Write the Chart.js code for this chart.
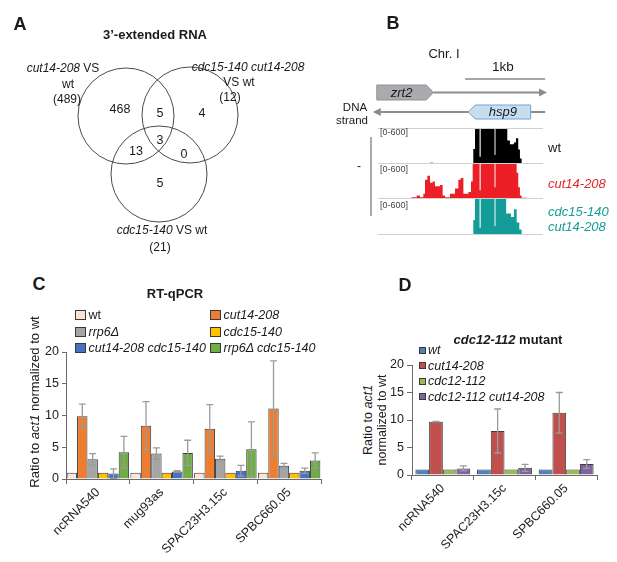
<!DOCTYPE html>
<html>
<head>
<meta charset="utf-8">
<script src="https://cdn.jsdelivr.net/npm/chart.js@4.4.0/dist/chart.umd.min.js"></script>
<style>
  body { margin: 0; background: #fff; }
  #fig { position: relative; width: 617px; height: 562px; overflow: hidden; font-family: "Liberation Sans", Arial, sans-serif; color: #1a1a1a; }
  #fig canvas { position: absolute; }
  .t { position: absolute; white-space: nowrap; line-height: 1; }
  .box { position: absolute; border: 1px solid #3a3a3a; box-sizing: border-box; }
</style>
</head>
<body>
<div id="fig">
  <canvas id="venn" width="320" height="260" style="left:0;top:0"></canvas>
  <canvas id="genes" width="200" height="90" style="left:360px;top:40px"></canvas>
  <canvas id="trackWt" width="165" height="36" style="left:378px;top:128px"></canvas>
  <canvas id="trackCut14" width="165" height="35" style="left:378px;top:164px"></canvas>
  <canvas id="trackDouble" width="165" height="36" style="left:378px;top:199px"></canvas>
  <canvas id="chartC" width="330" height="222" style="left:0;top:340px"></canvas>
  <canvas id="chartD" width="237" height="222" style="left:380px;top:340px"></canvas>
</div>
<script>
// ---- data ----

// A: venn
const vennCounts = [468, 5, 4, 3, 13, 0, 5];   // A only, AB, B only, ABC, AC, BC, C only
const vennTotals = [489, 12, 21];

// B: genome tracks (bp along the window, reads 0-600)
const winStart = 0, winEnd = 2060;
const geneNames = ['zrt2', 'hsp9'];
const geneStart = [-15, 1127];
const geneEnd = [691, 1906];
const geneStrand = ['+', '-'];
const scaleBarStart = 1087, scaleBarLen = 1000;

const wtPos = [0, 610, 650, 690, 740, 800, 1190, 1211, 1268, 1282, 1455, 1467, 1614, 1647, 1697, 1722, 1751, 1772, 1793, 1940, 1990, 2060];
const wtCov = [0, 10, 20, 5, 8, 0, 250, 900, 120, 900, 150, 900, 390, 330, 360, 430, 240, 90, 0, 6, 0, 0];

const cut14Pos = [0, 420, 483, 524, 566, 587, 616, 649, 682, 711, 774, 807, 836, 899, 961, 1003, 1032, 1066, 1128, 1161, 1182, 1268, 1282, 1455, 1467, 1731, 1751, 1772, 1793, 1856, 1906, 2060];
const cut14Cov = [0, 30, 60, 30, 90, 330, 400, 280, 300, 220, 240, 60, 30, 90, 180, 330, 360, 90, 120, 300, 900, 150, 900, 200, 900, 450, 200, 60, 20, 8, 0, 0];

const doublePos = [0, 500, 540, 620, 660, 700, 760, 1190, 1211, 1268, 1282, 1455, 1467, 1600, 1660, 1697, 1731, 1764, 1793, 2060];
const doubleCov = [0, 5, 0, 8, 0, 6, 0, 250, 900, 120, 900, 150, 900, 360, 300, 430, 210, 90, 0, 0];

// C: RT-qPCR
const genesC = ['ncRNA540', 'mug93as', 'SPAC23H3.15c', 'SPBC660.05'];
const wtC = [1, 1, 1, 1];
const cut14C = [9.9, 8.4, 7.9, 11.1];
const cut14ErrC = [1.9, 3.8, 3.8, 7.5];
const rrp6C = [3.1, 4.0, 3.2, 2.1];
const rrp6ErrC = [0.9, 0.9, 0.4, 0.35];
const cdc15C = [1, 1, 1, 1];
const cut14cdc15C = [0.85, 1.2, 1.3, 1.3];
const cut14cdc15ErrC = [0.75, 0.1, 0.85, 0.4];
const rrp6cdc15C = [4.2, 4.1, 4.7, 2.9];
const rrp6cdc15ErrC = [2.5, 2.0, 4.3, 1.2];

// D: cdc12-112 mutant
const genesD = ['ncRNA540', 'SPAC23H3.15c', 'SPBC660.05'];
const wtD = [1, 1, 1];
const cut14D = [9.7, 8.0, 11.3];
const cut14ErrD = [0.05, 4.0, 3.7];
const cdc12D = [1, 1, 1];
const cdc12cut14D = [1.2, 1.3, 2.0];
const cdc12cut14ErrD = [0.45, 0.65, 0.8];

const yTicks = [0, 5, 10, 15, 20];

// ---- helpers ----
const FONT = '"Liberation Sans", Arial, sans-serif';
const fig = document.getElementById('fig');

function addText(html, x, y, o = {}) {
  const d = document.createElement('div');
  d.className = 't';
  d.innerHTML = html;
  d.style.left = x + 'px';
  d.style.top = y + 'px';
  d.style.fontSize = (o.size || 12) + 'px';
  if (o.bold) d.style.fontWeight = 'bold';
  if (o.color) d.style.color = o.color;
  const ax = o.align == 'left' ? '0' : o.align == 'right' ? '-100%' : '-50%';
  d.style.transform = 'translate(' + ax + ',-50%)' + (o.rotate ? ' rotate(' + o.rotate + 'deg)' : '');
  fig.appendChild(d);
  return d;
}

function addBox(x, y, w, h, color) {
  const b = document.createElement('div');
  b.className = 'box';
  b.style.left = x + 'px'; b.style.top = y + 'px';
  b.style.width = w + 'px'; b.style.height = h + 'px';
  b.style.background = color;
  fig.appendChild(b);
}

function toPoints(pos, cov) {
  return pos.map((p, i) => ({ x: p, y: cov[i] }));
}

// error bars drawn from dataset.errors through the y scale
const errorBars = {
  id: 'errorBars',
  afterDatasetsDraw(chart) {
    const ctx = chart.ctx;
    const y = chart.scales.y;
    chart.data.datasets.forEach((ds, i) => {
      if (!ds.errors) return;
      const meta = chart.getDatasetMeta(i);
      ctx.save();
      ctx.strokeStyle = '#9b9b9b';
      ctx.lineWidth = 1.3;
      meta.data.forEach((bar, j) => {
        const e = ds.errors[j];
        if (!e) return;
        const v = ds.data[j];
        const top = y.getPixelForValue(v + e);
        const bot = y.getPixelForValue(Math.max(v - e, 0));
        ctx.beginPath();
        ctx.moveTo(bar.x, top); ctx.lineTo(bar.x, bot);
        ctx.moveTo(bar.x - 3.5, top); ctx.lineTo(bar.x + 3.5, top);
        ctx.moveTo(bar.x - 3.5, bot); ctx.lineTo(bar.x + 3.5, bot);
        ctx.stroke();
      });
      ctx.restore();
    });
  }
};

// ---- panel A: venn ----
const vennCircles = [{ x: 126, y: 116 }, { x: 190, y: 115 }, { x: 159, y: 174 }];
const vennLabelPos = [[120, 110], [160, 114], [202, 114], [160, 141], [136, 152], [184, 155], [160, 184]];

new Chart(document.getElementById('venn'), {
  type: 'scatter',
  data: { datasets: [{ data: vennCircles, pointRadius: 48, pointHoverRadius: 48, pointBackgroundColor: 'rgba(0,0,0,0)', pointBorderColor: '#4a4a4a', pointBorderWidth: 1, clip: false }] },
  options: {
    responsive: false, animation: false, events: [],
    layout: { padding: 0, autoPadding: false },
    plugins: { legend: { display: false }, tooltip: { enabled: false } },
    scales: {
      x: { type: 'linear', min: 0, max: 320, display: false },
      y: { type: 'linear', min: 0, max: 260, reverse: true, display: false }
    }
  },
  plugins: [{
    id: 'vennCounts',
    afterDatasetsDraw(chart) {
      const ctx = chart.ctx;
      ctx.save();
      ctx.font = '12.5px ' + FONT;
      ctx.fillStyle = '#1a1a1a';
      ctx.textAlign = 'center';
      ctx.textBaseline = 'middle';
      vennCounts.forEach((c, i) => {
        ctx.fillText(String(c), chart.scales.x.getPixelForValue(vennLabelPos[i][0]), chart.scales.y.getPixelForValue(vennLabelPos[i][1]));
      });
      ctx.restore();
    }
  }]
});

// ---- panel B: gene model ----
new Chart(document.getElementById('genes'), {
  type: 'scatter',
  data: { datasets: [{ data: [] }] },
  options: {
    responsive: false, animation: false, events: [],
    layout: { padding: { left: 18, right: 17, top: 0, bottom: 0 }, autoPadding: false },
    plugins: { legend: { display: false }, tooltip: { enabled: false } },
    scales: {
      x: { type: 'linear', min: winStart, max: winEnd, display: false },
      y: { min: 0, max: 1, display: false }
    }
  },
  plugins: [{
    id: 'geneModel',
    afterDraw(chart) {
      const ctx = chart.ctx;
      const x = v => chart.scales.x.getPixelForValue(v);
      const rowY = { scale: 39, '+': 52.5, '-': 72 };
      ctx.save();
      // scale bar
      ctx.strokeStyle = '#8a8a8a';
      ctx.lineWidth = 1.3;
      ctx.beginPath();
      ctx.moveTo(x(scaleBarStart), rowY.scale);
      ctx.lineTo(x(scaleBarStart + scaleBarLen), rowY.scale);
      ctx.stroke();
      // strand lines
      ctx.lineWidth = 2;
      ctx.strokeStyle = '#8c8c8c';
      ctx.fillStyle = '#8c8c8c';
      const plusY = rowY['+'], minusY = rowY['-'];
      ctx.beginPath(); ctx.moveTo(x(geneEnd[0]), plusY); ctx.lineTo(x(2060) - 2, plusY); ctx.stroke();
      ctx.beginPath(); ctx.moveTo(x(2060) + 4, plusY); ctx.lineTo(x(2060) - 4, plusY - 4); ctx.lineTo(x(2060) - 4, plusY + 4); ctx.closePath(); ctx.fill();
      ctx.beginPath(); ctx.moveTo(x(2087), minusY); ctx.lineTo(x(-20), minusY); ctx.stroke();
      ctx.beginPath(); ctx.moveTo(x(-40) - 2, minusY); ctx.lineTo(x(-40) + 6, minusY - 4); ctx.lineTo(x(-40) + 6, minusY + 4); ctx.closePath(); ctx.fill();
      // genes
      geneNames.forEach((name, i) => {
        const a = x(geneStart[i]), b = x(geneEnd[i]);
        const yc = rowY[geneStrand[i]];
        const h = geneStrand[i] == '+' ? 7.5 : 7;
        ctx.beginPath();
        if (geneStrand[i] == '+') {
          ctx.moveTo(a, yc - h); ctx.lineTo(b - 7, yc - h); ctx.lineTo(b, yc); ctx.lineTo(b - 7, yc + h); ctx.lineTo(a, yc + h);
          ctx.fillStyle = '#a9abae'; ctx.strokeStyle = '#8f9194';
        } else {
          ctx.moveTo(b, yc - h); ctx.lineTo(a + 7, yc - h); ctx.lineTo(a, yc); ctx.lineTo(a + 7, yc + h); ctx.lineTo(b, yc + h);
          ctx.fillStyle = '#c6ddf2'; ctx.strokeStyle = '#74a3d4';
        }
        ctx.closePath();
        ctx.lineWidth = 1;
        ctx.fill(); ctx.stroke();
        ctx.fillStyle = '#1a1a1a';
        ctx.font = 'italic 13px ' + FONT;
        ctx.textAlign = 'center';
        ctx.textBaseline = 'middle';
        const mid = geneStrand[i] == '+' ? (a + b - 7) / 2 : (a + 7 + b) / 2;
        ctx.fillText(name, mid, yc + 0.5);
      });
      ctx.restore();
    }
  }]
});

// ---- panel B: coverage tracks ----
const trackFrame = {
  id: 'trackFrame',
  afterDraw(chart, args, opts) {
    const ctx = chart.ctx, a = chart.chartArea;
    ctx.save();
    ctx.strokeStyle = '#d0d0d0';
    ctx.lineWidth = 1;
    ctx.beginPath();
    ctx.moveTo(a.left, a.bottom - 0.5); ctx.lineTo(a.right, a.bottom - 0.5);
    if (opts.top) { ctx.moveTo(a.left, a.top + 0.5); ctx.lineTo(a.right, a.top + 0.5); }
    ctx.stroke();
    ctx.restore();
  }
};

function trackChart(id, pos, cov, color, top) {
  new Chart(document.getElementById(id), {
    type: 'line',
    data: { datasets: [{ data: toPoints(pos, cov), stepped: 'before', fill: 'origin', backgroundColor: color, borderColor: color, borderWidth: 0, pointRadius: 0 }] },
    options: {
      responsive: false, animation: false, events: [],
      layout: { padding: 0, autoPadding: false },
      plugins: { legend: { display: false }, tooltip: { enabled: false }, trackFrame: { top: top } },
      scales: {
        x: { type: 'linear', min: winStart, max: winEnd, display: false },
        y: { min: 0, max: 600, display: false }
      }
    },
    plugins: [trackFrame]
  });
}
trackChart('trackWt', wtPos, wtCov, '#000000', true);
trackChart('trackCut14', cut14Pos, cut14Cov, '#ec1f26', false);
trackChart('trackDouble', doublePos, doubleCov, '#139c98', false);

// ---- panel C ----
const colorsC = ['#fbe4d5', '#ed7d31', '#a5a5a5', '#ffc000', '#4472c4', '#70ad47'];
const namesC = ['wt', '<i>cut14-208</i>', '<i>rrp6Δ</i>', '<i>cdc15-140</i>', '<i>cut14-208 cdc15-140</i>', '<i>rrp6Δ cdc15-140</i>'];
const valuesC = [wtC, cut14C, rrp6C, cdc15C, cut14cdc15C, rrp6cdc15C];
const errorsC = [null, cut14ErrC, rrp6ErrC, null, cut14cdc15ErrC, rrp6cdc15ErrC];

function axisOpts(yWidth, xHeight, tickLen) {
  return {
    x: {
      grid: { display: true, offset: true, drawOnChartArea: false, tickLength: 5, color: '#6a6a6a' },
      border: { color: '#6a6a6a' },
      ticks: { autoSkip: false, minRotation: 45, maxRotation: 45, color: '#222', font: { family: FONT, size: 12.5 }, padding: 1 },
      afterFit(s) { s.height = xHeight; }
    },
    y: {
      min: 0, max: 20,
      afterBuildTicks(s) { s.ticks = yTicks.map(v => ({ value: v })); },
      grid: { display: true, drawOnChartArea: false, tickLength: tickLen, color: '#6a6a6a' },
      border: { color: '#6a6a6a' },
      ticks: { color: '#222', font: { family: FONT, size: 12.5 }, padding: 3 },
      afterFit(s) { s.width = yWidth; }
    }
  };
}

new Chart(document.getElementById('chartC'), {
  type: 'bar',
  data: {
    labels: genesC,
    datasets: valuesC.map((v, i) => ({ data: v, errors: errorsC[i], backgroundColor: colorsC[i], borderColor: '#3c3c3c', borderWidth: 1 }))
  },
  options: {
    responsive: false, animation: false, events: [],
    layout: { padding: { top: 12, right: 9, left: 0, bottom: 0 }, autoPadding: false },
    datasets: { bar: { categoryPercentage: 0.98, barPercentage: 1 } },
    plugins: { legend: { display: false }, tooltip: { enabled: false } },
    scales: axisOpts(66, 83, 4)
  },
  plugins: [errorBars]
});

// ---- panel D ----
const colorsD = ['#4f81bd', '#c0504d', '#9bbb59', '#8064a2'];
const namesD = ['<i>wt</i>', '<i>cut14-208</i>', '<i>cdc12-112</i>', '<i>cdc12-112 cut14-208</i>'];
const valuesD = [wtD, cut14D, cdc12D, cdc12cut14D];
const errorsD = [null, cut14ErrD, null, cdc12cut14ErrD];

new Chart(document.getElementById('chartD'), {
  type: 'bar',
  data: {
    labels: genesD,
    datasets: valuesD.map((v, i) => ({ data: v, errors: errorsD[i], backgroundColor: colorsD[i], borderColor: '#3c3c3c', borderWidth: 1 }))
  },
  options: {
    responsive: false, animation: false, events: [],
    layout: { padding: { top: 25, right: 20, left: 0, bottom: 0 }, autoPadding: false },
    datasets: { bar: { categoryPercentage: 0.89, barPercentage: 1 } },
    plugins: { legend: { display: false }, tooltip: { enabled: false } },
    scales: axisOpts(32, 87, 5)
  },
  plugins: [errorBars]
});

// ---- text ----
// panel letters
addText('A', 20, 24, { size: 18, bold: true });
addText('B', 393, 23, { size: 18, bold: true });
addText('C', 39, 284, { size: 18, bold: true });
addText('D', 405, 285, { size: 18, bold: true });

// A
addText('3’-extended RNA', 155, 34, { size: 13, bold: true });
addText('<i>cut14-208</i> VS', 63, 68, { size: 12 });
addText('wt', 68, 84, { size: 12 });
addText('(' + vennTotals[0] + ')', 67, 99, { size: 12 });
addText('<i>cdc15-140 cut14-208</i>', 248, 67, { size: 12 });
addText('VS wt', 239, 82, { size: 12 });
addText('(' + vennTotals[1] + ')', 230, 97, { size: 12 });
addText('<i>cdc15-140</i> VS wt', 162, 230, { size: 12 });
addText('(' + vennTotals[2] + ')', 160, 247, { size: 12 });

// B
addText('Chr. I', 444, 53, { size: 13 });
addText('1kb', 503, 67, { size: 13.5 });
addText('DNA', 355, 108, { size: 11.5 });
addText('strand', 352, 121, { size: 11.5 });
addText('[0-600]', 380, 132, { size: 9, align: 'left', color: '#444' });
addText('[0-600]', 380, 169, { size: 9, align: 'left', color: '#444' });
addText('[0-600]', 380, 205, { size: 9, align: 'left', color: '#444' });
addText('wt', 548, 147, { size: 13, align: 'left' });
addText('<i>cut14-208</i>', 548, 183, { size: 13, align: 'left', color: '#e3262b' });
addText('<i>cdc15-140</i>', 548, 211, { size: 13, align: 'left', color: '#169b98' });
addText('<i>cut14-208</i>', 548, 226, { size: 13, align: 'left', color: '#169b98' });
addText('-', 359, 166, { size: 12 });
const vline = document.createElement('div');
vline.style.cssText = 'position:absolute;left:370px;top:137px;width:1.5px;height:79px;background:#aaa';
fig.appendChild(vline);

// C
addText('RT-qPCR', 175, 293, { size: 13, bold: true });
addText('Ratio to <i>act1</i> normalized to wt', 34, 402, { size: 13, rotate: -90 });
const legRowsC = [315, 331.5, 348];
namesC.forEach((n, i) => {
  const col = i % 2, row = Math.floor(i / 2);
  const bx = col ? 210 : 75;
  addBox(bx, legRowsC[row] - 5, 11, 10, colorsC[i]);
  addText(n, bx + 13.5, legRowsC[row], { size: 12.5, align: 'left' });
});

// D
addText('<i>cdc12-112</i> mutant', 508, 339, { size: 13, bold: true });
addText('Ratio to <i>act1</i>', 368, 420, { size: 12.5, rotate: -90 });
addText('normalized to wt', 382, 420, { size: 12.5, rotate: -90 });
const legRowsD = [350, 365.5, 381, 396.5];
namesD.forEach((n, i) => {
  addBox(419, legRowsD[i] - 3.5, 7, 7, colorsD[i]);
  addText(n, 428, legRowsD[i], { size: 12.5, align: 'left' });
});
</script>
</body>
</html>
